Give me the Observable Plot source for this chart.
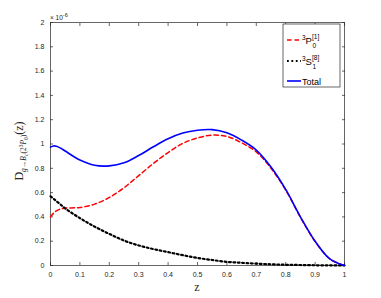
<!DOCTYPE html>
<html><head><meta charset="utf-8">
<script src="https://cdn.jsdelivr.net/npm/d3@7"></script>
<script src="https://cdn.jsdelivr.net/npm/@observablehq/plot@0.6"></script>
<style>body{margin:0;background:#fff}</style>
</head><body><div id="chart"></div>
<script>
const zValues = [0, 0.01, 0.02, 0.035, 0.05, 0.1, 0.15, 0.2, 0.25, 0.3, 0.35, 0.4, 0.45, 0.5, 0.55, 0.6, 0.65, 0.7, 0.75, 0.8, 0.85, 0.9, 0.95, 1.0];
const p0Values = [0.40, 0.43, 0.45, 0.465, 0.472, 0.478, 0.505, 0.56, 0.64, 0.74, 0.84, 0.93, 1.005, 1.05, 1.073, 1.062, 1.01, 0.935, 0.80, 0.62, 0.397, 0.198, 0.054, 0.0];
const s1Values = [0.57, 0.55, 0.53, 0.50, 0.47, 0.39, 0.32, 0.26, 0.205, 0.165, 0.135, 0.11, 0.085, 0.062, 0.045, 0.03, 0.022, 0.015, 0.01, 0.006, 0.004, 0.002, 0.001, 0.0];
const totalValues = [0.974, 0.984, 0.982, 0.965, 0.942, 0.868, 0.825, 0.82, 0.845, 0.905, 0.977, 1.043, 1.09, 1.113, 1.118, 1.092, 1.032, 0.95, 0.81, 0.626, 0.401, 0.2, 0.055, 0.0];
const xTicks = [0, 0.1, 0.2, 0.3, 0.4, 0.5, 0.6, 0.7, 0.8, 0.9, 1];
const xTickLabels = ["0", "0.1", "0.2", "0.3", "0.4", "0.5", "0.6", "0.7", "0.8", "0.9", "1"];
const yTicks = [0, 0.2, 0.4, 0.6, 0.8, 1, 1.2, 1.4, 1.6, 1.8, 2];
const yTickLabels = ["0", "0.2", "0.4", "0.6", "0.8", "1", "1.2", "1.4", "1.6", "1.8", "2"];

const toRows = vals => zValues.map((z, i) => ({z, v: vals[i]}));
const axisColor = "#262626";

const chart = Plot.plot({
  width: 381, height: 298,
  marginLeft: 50, marginRight: 37, marginTop: 22, marginBottom: 33,
  style: {fontFamily: "'Liberation Sans', Arial, sans-serif", fontSize: "7px", color: axisColor, background: "#fff", overflow: "visible"},
  x: {domain: [0, 1]},
  y: {domain: [0, 2]},
  marks: [
    Plot.frame({stroke: axisColor, strokeWidth: 0.7}),
    Plot.axisX(xTicks, {anchor: "bottom", tickSize: -3, tickPadding: 10, label: null, tickFormat: (d, i) => xTickLabels[i], stroke: axisColor, strokeWidth: 0.7}),
    Plot.axisX(xTicks, {anchor: "top", tickSize: -3, label: null, tickFormat: () => "", stroke: axisColor, strokeWidth: 0.7}),
    Plot.axisY(yTicks, {anchor: "left", tickSize: -3, tickPadding: 9, label: null, tickFormat: (d, i) => yTickLabels[i], stroke: axisColor, strokeWidth: 0.7}),
    Plot.axisY(yTicks, {anchor: "right", tickSize: -3, label: null, tickFormat: () => "", stroke: axisColor, strokeWidth: 0.7}),
    Plot.line(toRows(p0Values), {x: "z", y: "v", stroke: "#ff0000", strokeWidth: 1.5, strokeDasharray: "4.5,3", curve: "catmull-rom"}),
    Plot.line(toRows(s1Values), {x: "z", y: "v", stroke: "#000000", strokeWidth: 2.2, strokeDasharray: "1.8,2.6", curve: "catmull-rom"}),
    Plot.line(toRows(totalValues), {x: "z", y: "v", stroke: "#0000ff", strokeWidth: 1.6, curve: "catmull-rom"})
  ]
});
document.getElementById("chart").appendChild(chart);

const svg = d3.select(chart);
const serif = "'Liberation Serif', 'Times New Roman', serif";

// exponent label
const ex = svg.append("text").attr("x", 50).attr("y", 20).attr("font-size", 6.5).attr("fill", axisColor)
  .attr("text-anchor", "start").attr("font-family", "'Liberation Sans', Arial, sans-serif");
ex.append("tspan").text("× 10");
ex.append("tspan").attr("dy", -3).attr("font-size", 5.5).text("-6");

// x label
svg.append("text").attr("x", 197).attr("y", 291).attr("text-anchor", "middle")
  .attr("font-family", serif).attr("font-size", 12).attr("fill", axisColor).text("z");

// y label
const yl = svg.append("text").attr("transform", "translate(23,151) rotate(-90)").attr("text-anchor", "middle")
  .attr("font-family", serif).attr("font-size", 12).attr("fill", axisColor);
yl.append("tspan").text("D");
yl.append("tspan").attr("dy", 3).attr("font-size", 7.5).attr("font-style", "italic").text("g→B");
yl.append("tspan").attr("dy", 2).attr("font-size", 5.5).attr("font-style", "italic").text("c");
yl.append("tspan").attr("dy", -2).attr("font-size", 7.5).text("(2");
yl.append("tspan").attr("dy", -3).attr("font-size", 5.5).text("3");
yl.append("tspan").attr("dy", 3).attr("font-size", 7.5).attr("font-style", "italic").text("P");
yl.append("tspan").attr("dy", 2).attr("font-size", 5.5).text("0");
yl.append("tspan").attr("dy", -2).attr("font-size", 7.5).text(")");
yl.append("tspan").attr("dy", -3).attr("font-size", 12).text("(z)");

// legend
const lg = svg.append("g").attr("font-family", "'Liberation Sans', Arial, sans-serif").attr("fill", "#000").attr("text-anchor", "start");
lg.append("rect").attr("x", 283).attr("y", 24).attr("width", 57).attr("height", 63)
  .attr("fill", "#fff").attr("stroke", axisColor).attr("stroke-width", 0.7);
const entries = [
  {y: 40, stroke: "#ff0000", dash: "4.5,3", w: 1.5},
  {y: 61, stroke: "#000000", dash: "1.8,2.6", w: 2.2},
  {y: 81, stroke: "#0000ff", dash: null, w: 1.6}
];
entries.forEach(e => {
  const l = lg.append("line").attr("x1", 287).attr("x2", 301).attr("y1", e.y).attr("y2", e.y)
    .attr("stroke", e.stroke).attr("stroke-width", e.w);
  if (e.dash) l.attr("stroke-dasharray", e.dash);
});
function stacked(y, letter, sub, sup) {
  lg.append("text").attr("x", 302).attr("y", y - 4).attr("font-size", 6.5).text("3");
  lg.append("text").attr("x", 305.5).attr("y", y).attr("font-size", 9.5).text(letter);
  lg.append("text").attr("x", 312).attr("y", y - 5).attr("font-size", 6.5).text(sup);
  lg.append("text").attr("x", 312.5).attr("y", y + 4).attr("font-size", 6.5).text(sub);
}
stacked(44, "P", "0", "[1]");
stacked(65, "S", "1", "[8]");
lg.append("text").attr("x", 302).attr("y", 85).attr("font-size", 9).text("Total");
</script>
</body></html>
